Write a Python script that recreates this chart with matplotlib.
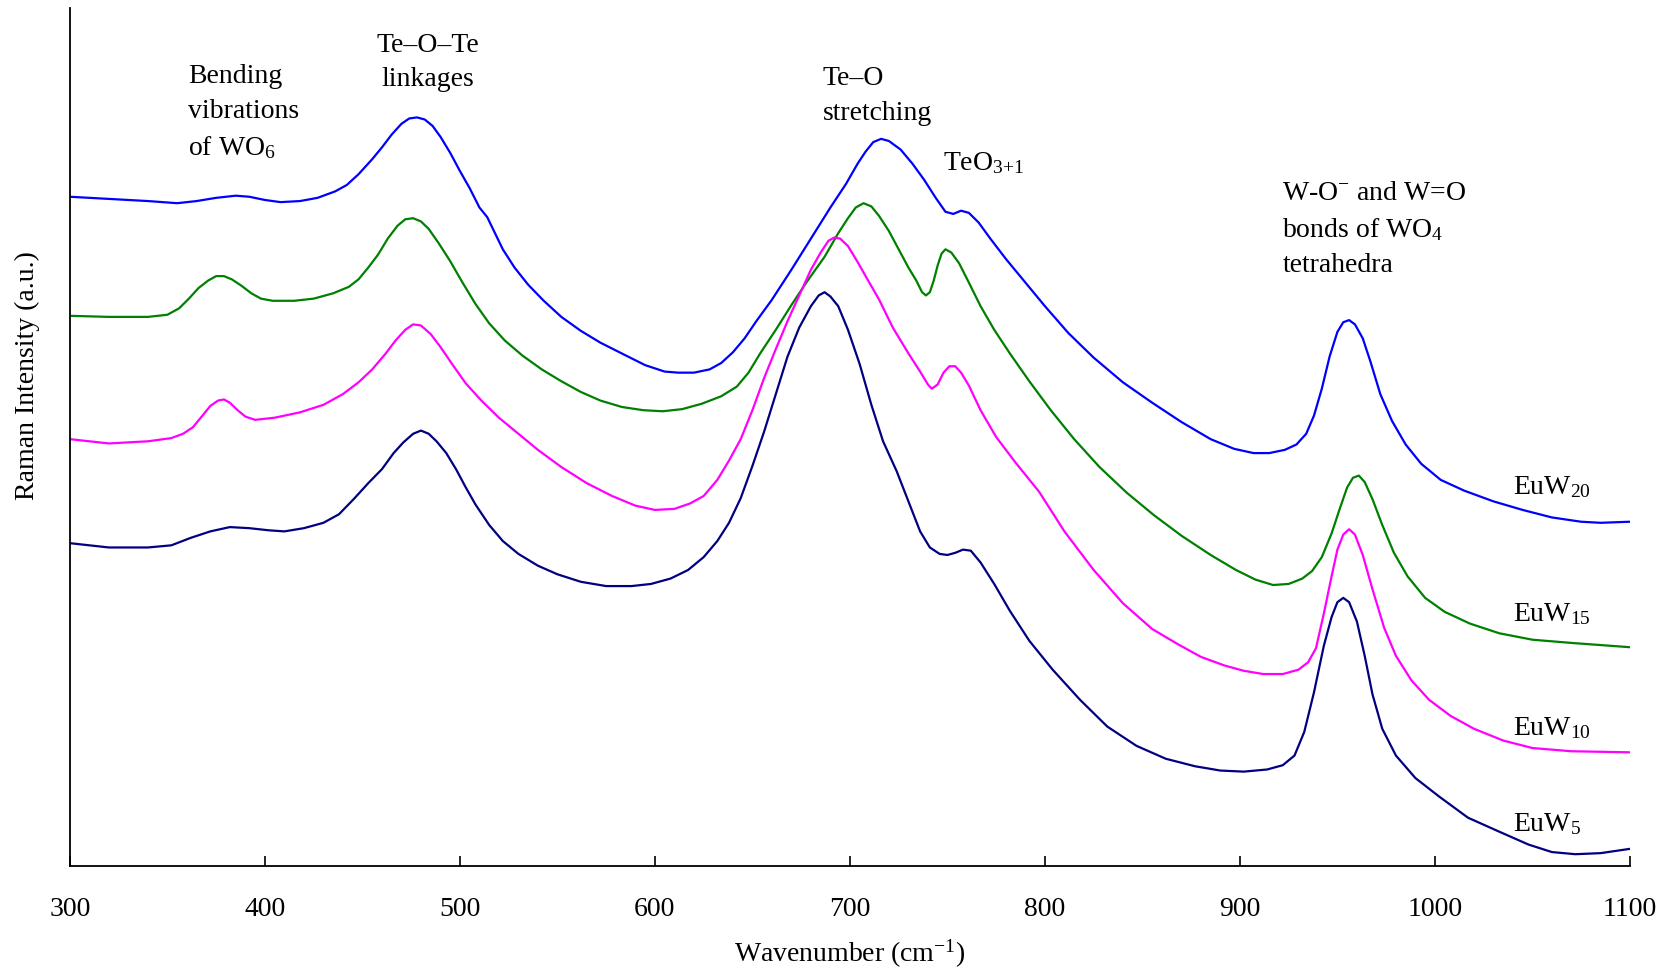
import numpy as np
import matplotlib.pyplot as plt

plt.rcParams['font.family'] = ['Liberation Serif', 'DejaVu Serif']
plt.rcParams['mathtext.fontset'] = 'custom'
plt.rcParams['mathtext.rm'] = 'Liberation Serif'
plt.rcParams['mathtext.it'] = 'Liberation Serif:italic'

# Raman spectra (offset for clarity), wavenumber in cm^-1, intensity in a.u.
wn_euw20 = [300, 320, 340, 355, 365, 375, 385, 392, 400, 408, 418, 427, 436, 442, 448,
            455, 460, 465, 470, 474, 478, 482, 486, 490, 495, 500, 505, 510, 514, 518,
            522, 528, 535, 543, 552, 562, 572, 584, 595, 605, 612, 620, 628, 634, 640,
            646, 652, 660, 670, 680, 690, 698, 704, 708, 712, 716, 720, 726, 732, 738,
            744, 749, 753, 757, 761, 766, 772, 780, 790, 800, 812, 825, 840, 855, 870,
            885, 897, 907, 915, 923, 929, 934, 938, 942, 946, 950, 953, 956, 959, 963,
            967, 972, 978, 985, 993, 1003, 1015, 1030, 1045, 1060, 1075, 1085, 1100]
i_euw20 = [624, 622, 620, 618, 620, 623, 625, 624, 621, 619, 620, 623, 629, 635, 645,
           659, 670, 682, 692, 697, 698, 696, 690, 680, 665, 648, 632, 614, 605, 590,
           575, 558, 542, 527, 512, 499, 488, 477, 467, 461, 460, 460, 463, 469, 479,
           492, 508, 528, 556, 585, 614, 636, 655, 666, 675, 678, 676, 668, 655, 640,
           623, 610, 608, 611, 609, 600, 585, 566, 544, 522, 497, 474, 451, 432, 414,
           398, 389, 385, 385, 388, 393, 403, 420, 445, 475, 498, 507, 509, 505, 492,
           470, 440, 415, 393, 375, 360, 350, 340, 332, 325, 321, 320, 321]

wn_euw15 = [300, 320, 340, 350, 356, 361, 366, 371, 375, 379, 383, 388, 393, 398, 404,
            415, 425, 435, 443, 448, 453, 458, 463, 468, 472, 476, 480, 484, 489, 495,
            501, 508, 515, 523, 532, 542, 552, 562, 572, 583, 594, 604, 614, 624, 634,
            642, 648, 654, 662, 670, 678, 687, 694, 699, 703, 707, 711, 715, 720, 725,
            730, 734, 737, 739, 741, 743, 745, 747, 749, 752, 756, 761, 767, 774, 782,
            792, 803, 815, 828, 842, 856, 870, 885, 898, 908, 917, 925, 932, 937, 942,
            947, 951, 955, 958, 961, 964, 968, 973, 979, 986, 995, 1005, 1018, 1033, 1050,
            1070, 1085, 1100]
i_euw15 = [513, 512, 512, 514, 520, 529, 539, 546, 550, 550, 547, 541, 534, 529, 527,
           527, 529, 534, 540, 547, 558, 570, 585, 597, 603, 604, 601, 594, 581, 564,
           545, 524, 506, 490, 476, 463, 452, 442, 434, 428, 425, 424, 426, 431, 438,
           447, 460, 478, 500, 523, 545, 568, 590, 604, 614, 618, 615, 606, 592, 575,
           558, 546, 535, 532, 535, 546, 560, 571, 575, 572, 562, 544, 522, 500, 478,
           452, 425, 398, 372, 348, 327, 308, 290, 276, 267, 262, 263, 268, 275, 288,
           310, 332, 353, 362, 364, 358, 342, 318, 292, 270, 250, 237, 226, 217, 211,
           208, 206, 204]

wn_euw10 = [300, 320, 340, 352, 358, 363, 368, 372, 376, 379, 382, 386, 390, 395, 405,
            418, 430, 440, 448, 455, 462, 467, 472, 476, 480, 485, 490, 496, 503, 511,
            520, 530, 540, 552, 565, 578, 590, 600, 610, 618, 625, 632, 638, 644, 650,
            656, 662, 668, 674, 680, 685, 689, 692, 695, 699, 704, 709, 715, 722, 730,
            736, 740, 742, 745, 748, 751, 754, 757, 761, 767, 775, 785, 797, 810, 825,
            840, 855, 868, 880, 892, 902, 912, 922, 930, 935, 939, 943, 947, 950, 953,
            956, 959, 963, 968, 974, 980, 988, 997, 1008, 1020, 1035, 1050, 1070, 1100]
i_euw10 = [398, 394, 396, 399, 403, 409, 420, 429, 434, 435, 432, 425, 419, 416, 418,
           423, 430, 440, 451, 463, 478, 490, 500, 505, 504, 496, 484, 468, 450, 434,
           418, 403, 388, 372, 357, 345, 336, 332, 333, 338, 345, 360, 378, 398, 425,
           455, 482, 508, 532, 556, 572, 583, 586, 585, 578, 563, 547, 528, 502, 478,
           461, 449, 445, 449, 460, 466, 466, 460, 448, 425, 400, 376, 349, 312, 276,
           245, 221, 207, 195, 187, 182, 179, 179, 183, 190, 203, 235, 270, 295, 309,
           314, 309, 290, 258, 222, 196, 173, 155, 140, 128, 117, 110, 107, 106]

wn_euw5 = [300, 320, 340, 352, 362, 372, 382, 392, 402, 410, 420, 430, 438, 446, 453,
           460, 466, 471, 476, 480, 484, 488, 493, 498, 503, 508, 515, 522, 530, 540,
           550, 562, 575, 588, 598, 608, 617, 625, 632, 638, 644, 650, 656, 662, 668,
           674, 680, 684, 687, 690, 694, 699, 705, 711, 717, 724, 730, 736, 741, 746,
           750, 754, 758, 762, 767, 774, 782, 792, 804, 818, 832, 847, 862, 877, 890,
           902, 914, 922, 928, 933, 938, 943, 947, 950, 953, 956, 960, 964, 968, 973,
           980, 990, 1002, 1017, 1033, 1048, 1060, 1072, 1085, 1100]
i_euw5 = [301, 297, 297, 299, 306, 312, 316, 315, 313, 312, 315, 320, 328, 343, 357,
          370, 385, 395, 403, 406, 403, 396, 385, 370, 353, 337, 318, 303, 291, 280,
          272, 265, 261, 261, 263, 268, 276, 288, 303, 320, 343, 373, 405, 440, 475,
          502, 522, 532, 535, 531, 522, 500, 468, 430, 396, 368, 340, 312, 297, 291,
          290, 292, 295, 294, 283, 263, 238, 210, 183, 155, 130, 112, 100, 93, 89,
          88, 90, 94, 103, 125, 162, 205, 232, 246, 250, 246, 228, 196, 160, 128,
          103, 82, 65, 45, 32, 20, 13, 11, 12, 16]

series = [
    (wn_euw20, i_euw20, '#0000ff', 'EuW$_{20}$', 347),
    (wn_euw15, i_euw15, '#008000', 'EuW$_{15}$', 228),
    (wn_euw10, i_euw10, '#ff00ff', 'EuW$_{10}$', 122),
    (wn_euw5, i_euw5, '#000080', 'EuW$_{5}$', 33),
]

fig = plt.figure(figsize=(16.81, 9.76), dpi=100)
ax = fig.add_axes([0.0416, 0.1127, 0.928, 0.8791])

fs = 20
for wn, inten, col, lab, ly in series:
    ax.plot(wn, inten, '-', color=col, linewidth=1.6)
    ax.text(1040, ly, lab, fontsize=fs, ha='left', va='baseline')

# band assignments (y = baseline of the last line)
ax.text(360.5, 663, 'Bending\nvibrations\nof WO$_6$', fontsize=fs, ha='left', va='baseline', linespacing=1.5)
ax.text(483.6, 727, 'Te–O–Te\nlinkages', fontsize=fs, ha='center', va='baseline', linespacing=1.5)
ax.text(685.9, 696, 'Te–O\nstretching', fontsize=fs, ha='left', va='baseline', linespacing=1.5)
ax.text(747.5, 649, 'TeO$_{3{+}1}$', fontsize=fs, ha='left', va='baseline')
ax.text(921.8, 554, 'W-O$^{-}$ and W=O\nbonds of WO$_4$\ntetrahedra', fontsize=fs, ha='left', va='baseline', linespacing=1.5)

ax.set_xlim(300, 1100)
ax.set_ylim(0, 800)
ax.set_xticks(np.arange(300, 1101, 100))
ax.set_yticks([])
ax.tick_params(axis='x', direction='in', length=7, width=1.2, labelsize=fs, pad=22)
for s in ['top', 'right']:
    ax.spines[s].set_visible(False)
for s in ['left', 'bottom']:
    ax.spines[s].set_linewidth(1.3)

ax.set_xlabel('Wavenumber (cm$^{-1}$)', fontsize=fs, labelpad=12)
ax.set_ylabel('Raman Intensity (a.u.)', fontsize=fs)
ax.yaxis.set_label_coords(-0.0192, 0.572)

plt.savefig('out.png', dpi=100)
